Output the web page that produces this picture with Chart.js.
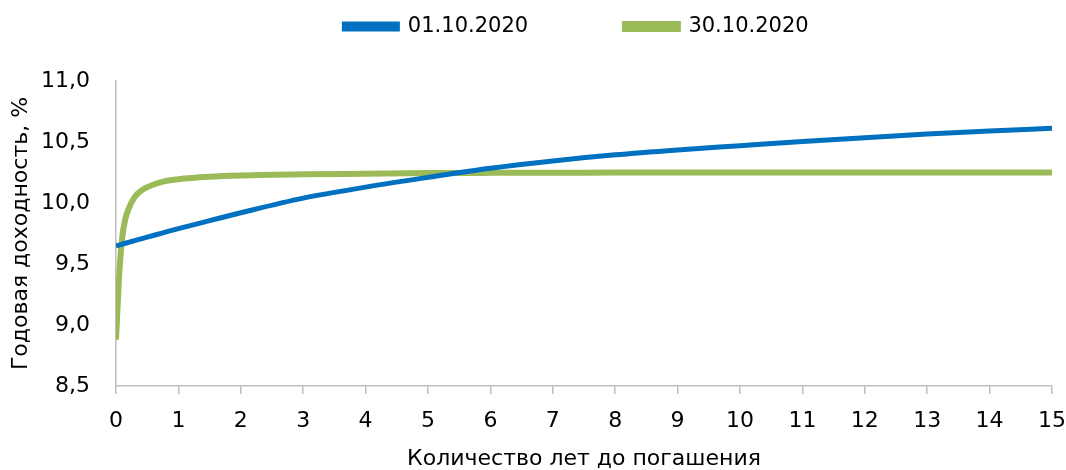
<!DOCTYPE html>
<html>
<head>
<meta charset="utf-8">
<script src="https://cdn.jsdelivr.net/npm/chart.js@4"></script>
<style>
    html, body { margin: 0; padding: 0; background: #fff; }
    #wrap { width: 1066px; height: 470px; }
</style>
</head>
<body>
<div id="wrap"><canvas id="curveChart"></canvas></div>
<script>
const years = [0, 0.05, 0.1, 0.15, 0.2, 0.3, 0.4, 0.5, 0.75, 1, 1.5, 2, 3, 4, 5, 6, 7, 8, 9, 10, 11, 12, 13, 14, 15];
const yieldOct01 = [9.648, 9.655, 9.663, 9.67, 9.677, 9.692, 9.706, 9.72, 9.755, 9.79, 9.855, 9.92, 10.04, 10.13, 10.21, 10.285, 10.345, 10.395, 10.435, 10.47, 10.505, 10.535, 10.565, 10.59, 10.612];
const yieldOct30 = [8.88, 9.4, 9.72, 9.87, 9.95, 10.05, 10.1, 10.13, 10.175, 10.195, 10.215, 10.225, 10.235, 10.24, 10.245, 10.247, 10.248, 10.249, 10.25, 10.25, 10.25, 10.25, 10.25, 10.25, 10.25];
const seriesLabels = ['01.10.2020', '30.10.2020'];
const yTicks = [8.5, 9.0, 9.5, 10.0, 10.5, 11.0];

const FONT = '"DejaVu Sans", sans-serif';
const toPoints = vals => years.map((x, i) => ({ x: x, y: vals[i] }));

// extra room under the legend and a nudge to the right, like the original
const legendTweaks = {
    id: 'legendTweaks',
    beforeInit(chart) {
        const fit = chart.legend.fit;
        chart.legend.fit = function () {
            fit.bind(chart.legend)();
            this.height += 34;
        };
    },
    afterLayout(chart) {
        chart.legend.left += 80;
    }
};

const ctx = document.getElementById('curveChart').getContext('2d');
new Chart(ctx, {
    type: 'line',
    data: {
        datasets: [{
            label: seriesLabels[0],
            data: toPoints(yieldOct01),
            borderColor: '#0070C0',
            backgroundColor: '#0070C0',
            borderWidth: 5,
            pointRadius: 0,
            cubicInterpolationMode: 'monotone'
        }, {
            label: seriesLabels[1],
            data: toPoints(yieldOct30),
            borderColor: '#9BBB59',
            backgroundColor: '#9BBB59',
            borderWidth: 6,
            pointRadius: 0,
            cubicInterpolationMode: 'monotone'
        }]
    },
    plugins: [legendTweaks],
    options: {
        responsive: true,
        maintainAspectRatio: false,
        animation: false,
        events: [],
        layout: { padding: { left: 8, right: 1, top: 6, bottom: 0 } },
        plugins: {
            legend: {
                position: 'top',
                labels: {
                    boxWidth: 53,
                    boxHeight: 5,
                    padding: 10,
                    color: '#000',
                    font: { family: FONT, size: 21 },
                    generateLabels: chart => {
                        const items = Chart.defaults.plugins.legend.labels.generateLabels(chart);
                        items[0].text += ' '.repeat(13);
                        return items;
                    }
                }
            },
            tooltip: { enabled: false }
        },
        scales: {
            x: {
                type: 'linear',
                min: 0,
                max: 15,
                afterFit: axis => {
                    axis.height = 84;
                    axis.paddingRight = 14;
                },
                ticks: {
                    stepSize: 1,
                    color: '#000',
                    padding: 14,
                    font: { family: FONT, size: 22 }
                },
                grid: {
                    drawOnChartArea: false,
                    drawTicks: true,
                    tickLength: 8,
                    color: '#BFBFBF',
                    lineWidth: 1.5
                },
                border: { color: '#BFBFBF', width: 1.5 },
                title: {
                    display: true,
                    text: 'Количество лет до погашения',
                    color: '#000',
                    padding: { top: 8, bottom: 0 },
                    font: { family: FONT, size: 22, lineHeight: 1.0 }
                }
            },
            y: {
                min: 8.5,
                max: 11,
                afterFit: axis => { axis.width = 108; },
                afterBuildTicks: axis => { axis.ticks = yTicks.map(v => ({ value: v })); },
                ticks: {
                    color: '#000',
                    padding: 26,
                    font: { family: FONT, size: 22 },
                    callback: v => v.toFixed(1).replace('.', ',')
                },
                grid: { drawOnChartArea: false, drawTicks: false },
                border: { color: '#BFBFBF', width: 1.5 },
                title: {
                    display: true,
                    text: 'Годовая доходность, %',
                    color: '#000',
                    padding: { top: 2, bottom: 7 },
                    font: { family: FONT, size: 22, lineHeight: 1.0 }
                }
            }
        }
    }
});
</script>
</body>
</html>
